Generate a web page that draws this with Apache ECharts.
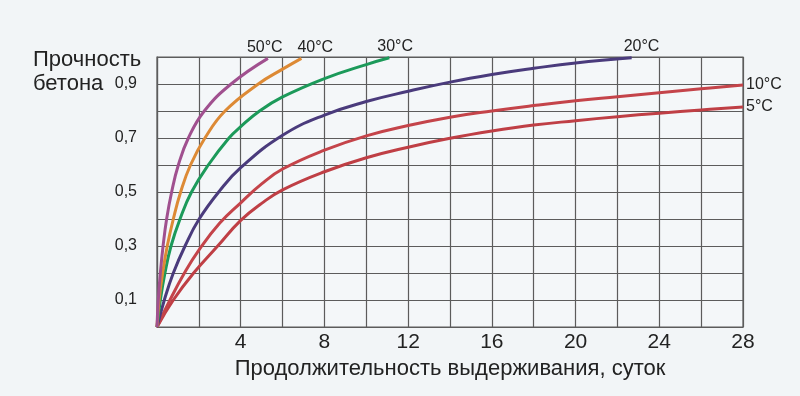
<!DOCTYPE html>
<html>
<head>
<meta charset="utf-8">
<script src="https://cdn.jsdelivr.net/npm/echarts@6/dist/echarts.min.js"></script>
<style>
html,body{margin:0;padding:0;background:#f2f5f7;}
#c{width:800px;height:396px;}
</style>
</head>
<body>
<div id="c"></div>
<script>
// Data: [days, relative strength]
const seriesNames = ['50°C', '40°C', '30°C', '20°C', '10°C', '5°C'];
const s50 = [[0,0],[0.06,0.1],[0.16,0.2],[0.29,0.3],[0.46,0.4],[0.7,0.5],[1.02,0.6],[1.5,0.7],[2.26,0.8],[3.54,0.9],[5.3,0.995]];
const s40 = [[0,0],[0.1,0.1],[0.27,0.2],[0.49,0.3],[0.78,0.4],[1.13,0.5],[1.6,0.6],[2.29,0.7],[3.25,0.8],[4.84,0.9],[6,0.955],[6.9,0.995]];
const s30 = [[0,0],[0.16,0.1],[0.38,0.2],[0.67,0.3],[1.1,0.4],[1.65,0.5],[2.45,0.6],[3.44,0.7],[4,0.742],[4.9,0.8],[6,0.852],[8,0.92],[10,0.972],[11.1,0.997]];
const s20 = [[0,0],[0.35,0.1],[0.78,0.2],[1.34,0.3],[2,0.398],[3,0.505],[4,0.59],[6,0.71],[8,0.785],[10,0.835],[12,0.873],[14,0.907],[16,0.935],[18,0.958],[20,0.978],[22.68,0.997]];
const s10 = [[0,0],[0.62,0.1],[1.31,0.2],[2,0.285],[3,0.385],[4,0.46],[5,0.53],[6,0.585],[8,0.655],[10,0.708],[12,0.746],[14,0.777],[16,0.8],[18,0.82],[20,0.838],[22,0.853],[24,0.868],[26,0.882],[28,0.896]];
const s5 = [[0,0],[0.78,0.1],[1.75,0.2],[2.9,0.3],[4,0.395],[5,0.458],[6,0.508],[8,0.575],[10,0.627],[12,0.666],[14,0.699],[16,0.726],[18,0.748],[20,0.764],[22,0.779],[24,0.792],[26,0.804],[28,0.815]];
const xTickLabels = [4, 8, 12, 16, 20, 24, 28];
const yTickLabels = ['0,1', '0,3', '0,5', '0,7', '0,9'];

const allData = [s50, s40, s30, s20, s10, s5];
const colors = ['#a0508f', '#dd8a35', '#1c9a5a', '#4a3b7c', '#c4444a', '#bf3f45'];
const labelOffsets = [[-24,-11],[-7,-11],[-15,-11],[-11,-11],[0,0],[0,0]];

const chart = echarts.init(document.getElementById('c'), null, {renderer:'canvas'});
const font = "'Liberation Sans', Arial, sans-serif";
chart.setOption({
  backgroundColor: '#f2f5f7',
  animation: false,
  title: {
    text: 'Прочность\nбетона',
    left: 28, top: 43,
    textStyle: {fontFamily: font, fontSize: 22, fontWeight: 'normal', color: '#222', lineHeight: 24}
  },
  grid: {left: 157, right: 57, top: 57, bottom: 69, show: true, borderColor: '#5c5c5c', borderWidth: 1.2, backgroundColor: '#f4f7f9'},
  xAxis: {
    type: 'value', min: 0, max: 28, interval: 2,
    name: 'Продолжительность выдерживания, суток',
    nameLocation: 'middle', nameGap: 27,
    nameTextStyle: {fontFamily: font, fontSize: 22, color: '#222'},
    axisLine: {show: true, lineStyle: {color: '#5c5c5c', width: 1.2}},
    axisTick: {show: false},
    splitLine: {show: true, lineStyle: {color: '#5c5c5c', width: 1.2}},
    axisLabel: {
      fontFamily: font, fontSize: 21, color: '#222', margin: 5,
      formatter: v => xTickLabels.indexOf(Math.round(v)) >= 0 ? String(Math.round(v)) : ''
    }
  },
  yAxis: {
    type: 'value', min: 0, max: 1, interval: 0.1,
    axisLine: {show: true, lineStyle: {color: '#5c5c5c', width: 1.2}},
    axisTick: {show: false},
    splitLine: {show: true, lineStyle: {color: '#5c5c5c', width: 1.2}},
    axisLabel: {
      fontFamily: font, fontSize: 16, color: '#222', margin: 20,
      formatter: v => {
        const s = v.toFixed(1).replace('.', ',');
        return yTickLabels.indexOf(s) >= 0 ? s : '';
      }
    }
  },
  series: allData.map((d, i) => ({
    name: seriesNames[i],
    type: 'line',
    data: d,
    smooth: 0.45,
    showSymbol: false,
    lineStyle: {color: colors[i], width: 3},
    itemStyle: {color: colors[i]},
    endLabel: {
      show: true, formatter: '{a}', distance: 3,
      offset: labelOffsets[i],
      fontFamily: font, fontSize: 16, color: '#222'
    },
    z: 10 - i
  }))
});
</script>
</body>
</html>
